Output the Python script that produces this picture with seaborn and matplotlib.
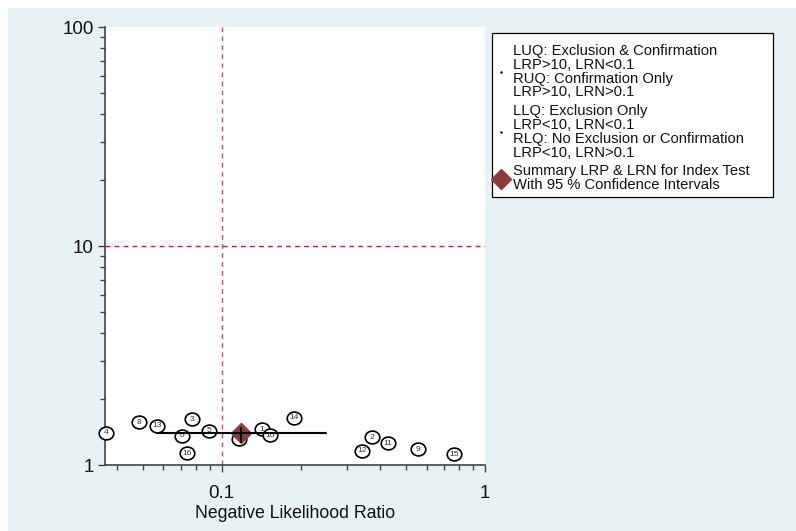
import numpy as np
import pandas as pd
import seaborn as sns
import matplotlib
matplotlib.use('Agg')
import matplotlib.pyplot as plt
from matplotlib.path import Path
from matplotlib.markers import MarkerStyle
from matplotlib.lines import Line2D
from matplotlib.patches import Rectangle
import matplotlib.ticker as mticker

# ---- data ----
study = [1, 2, 3, 4, 5, 6, 7, 8, 9, 10, 11, 12, 13, 14, 15, 16]
lrn = [0.142, 0.372, 0.077, 0.0364, 0.0897, 0.0707, 0.1166, 0.0484,
       0.558, 0.1525, 0.429, 0.340, 0.0569, 0.188, 0.762, 0.0736]
lrp = [1.46, 1.34, 1.62, 1.40, 1.43, 1.36, 1.31, 1.57,
       1.18, 1.37, 1.26, 1.16, 1.51, 1.64, 1.12, 1.13]
summary_lrn = [0.118]
summary_lrp = [1.40]
ci_lrn = [0.0566, 0.249]
ci_lrp = [1.27, 1.48]
x_ticks = [0.1, 1]
y_ticks = [1, 10, 100]
legend_labels = [
    "LUQ: Exclusion & Confirmation\nLRP>10, LRN<0.1\nRUQ: Confirmation Only\nLRP>10, LRN>0.1",
    "LLQ: Exclusion Only\nLRP<10, LRN<0.1\nRLQ: No Exclusion or Confirmation\nLRP<10, LRN>0.1",
    "Summary LRP & LRN for Index Test\nWith 95 % Confidence Intervals",
]

df = pd.DataFrame({"study": study, "lrn": lrn, "lrp": lrp})

sns.set_theme(style="white")
plt.rcParams['font.family'] = ['Liberation Sans', 'DejaVu Sans']

W, H = 796, 531
fig = plt.figure(figsize=(W / 100, H / 100), dpi=100, facecolor='white')
fig.patches.append(Rectangle((8 / W, 0), 1, 1 - 8 / H, transform=fig.transFigure,
                             facecolor='#E8F1F4', edgecolor='none', zorder=-10))
ax = fig.add_axes([105 / W, 1 - 465 / H, 380 / W, 438 / H])
ax.set_facecolor('white')

ax.set_xscale('log')
ax.set_yscale('log')

# reference lines
ax.axvline(0.1, color='#D9467A', ls=(0, (3.5, 3)), lw=1.0, zorder=1)
ax.axhline(10, color='#E0144C', ls=(0, (3.5, 3)), lw=1.0, zorder=1)

# study points (slightly flattened circles)
circ = Path.unit_circle()
ell = Path(circ.vertices * np.array([1.0, 0.88]), circ.codes)
sns.scatterplot(data=df, x='lrn', y='lrp', marker=MarkerStyle(ell), s=110,
                color='white', edgecolor='black', linewidth=1.2, ax=ax,
                zorder=3, legend=False, clip_on=False)
for n, xv, yv in zip(study, lrn, lrp):
    ax.text(xv, yv, str(n), ha='center', va='center', fontsize=6,
            color='#333333', zorder=4)

# summary point
diamond_col = '#8E3B3F'
sns.scatterplot(x=summary_lrn, y=summary_lrp, marker='D', s=108,
                color=diamond_col, edgecolor=diamond_col, ax=ax, zorder=5,
                legend=False)
ax.plot(ci_lrn, summary_lrp * 2, color='black', lw=1.5, zorder=6)
ax.plot(summary_lrn * 2, ci_lrp, color='black', lw=1.5, zorder=6)

ax.set_xlim(0.0360, 1.0)
ax.set_ylim(1, 100)

for s in ['top', 'right']:
    ax.spines[s].set_visible(False)
for s in ['left', 'bottom']:
    ax.spines[s].set_color('#444444')
    ax.spines[s].set_linewidth(1.2)

ax.xaxis.set_major_locator(mticker.FixedLocator(x_ticks))
ax.yaxis.set_major_locator(mticker.FixedLocator(y_ticks))
ax.xaxis.set_major_formatter(mticker.FuncFormatter(lambda v, p: f'{v:g}'))
ax.yaxis.set_major_formatter(mticker.FuncFormatter(lambda v, p: f'{v:g}'))
ax.xaxis.set_minor_locator(mticker.LogLocator(base=10, subs=np.arange(2, 10)))
ax.yaxis.set_minor_locator(mticker.LogLocator(base=10, subs=np.arange(2, 10)))
ax.xaxis.set_minor_formatter(mticker.NullFormatter())
ax.yaxis.set_minor_formatter(mticker.NullFormatter())
ax.tick_params(which='both', bottom=True, left=True, direction='out',
               color='#444444', width=1.0)
ax.tick_params(which='major', length=5, labelsize=13.5, labelcolor='#111111')
ax.tick_params(axis='x', which='major', pad=9.5)
ax.tick_params(axis='y', which='major', pad=3)
ax.tick_params(which='minor', length=3.5)

ax.set_xlabel('Negative Likelihood Ratio', fontsize=12.7, labelpad=2, color='#111111')
ax.set_ylabel('')

handles = [
    Line2D([], [], marker='.', ms=1.5, color='black', ls='none'),
    Line2D([], [], marker='.', ms=1.5, color='black', ls='none'),
    Line2D([], [], marker='D', ms=10.4, color=diamond_col, ls='none'),
]
leg = fig.legend(handles, legend_labels, loc='upper left',
                 bbox_to_anchor=(492 / W, 1 - 197 / H, 281 / W, 164 / H),
                 bbox_transform=fig.transFigure, mode='expand', borderaxespad=0,
                 fontsize=10.6, frameon=True, fancybox=False, edgecolor='black',
                 framealpha=1, facecolor='white', handlelength=0.55,
                 handletextpad=0.5, labelspacing=0.33, borderpad=0.35,
                 title=' ', title_fontsize=1)
leg.get_frame().set_linewidth(0.9)
for t in leg.get_texts():
    t.set_linespacing(0.98)
    t.set_color('#111111')

fig.savefig('out.png', dpi=100, facecolor=fig.get_facecolor())
